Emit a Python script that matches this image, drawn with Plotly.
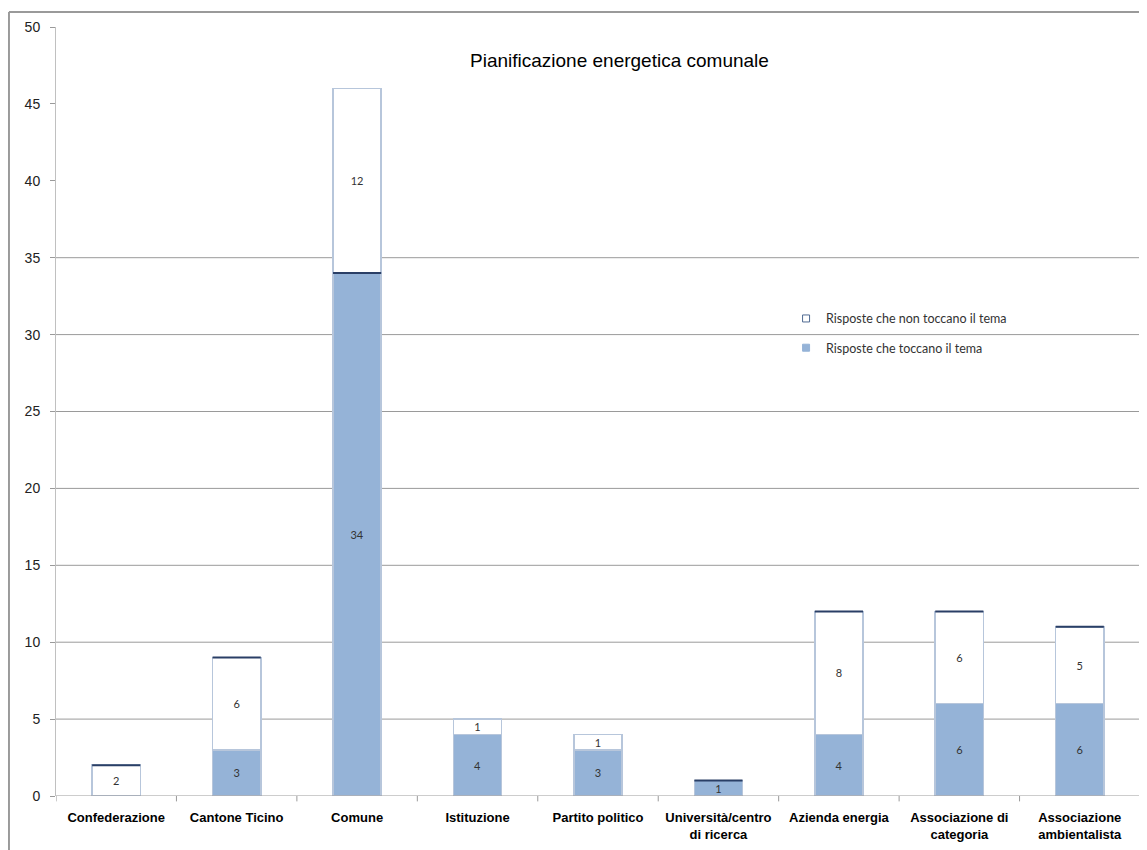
import plotly.graph_objects as go

categories = ["Confederazione", "Cantone Ticino", "Comune", "Istituzione", "Partito politico",
              "Università/centro<br>di ricerca", "Azienda energia", "Associazione di<br>categoria",
              "Associazione<br>ambientalista"]
toccano = [0, 3, 34, 4, 3, 1, 4, 6, 6]
non_toccano = [2, 6, 12, 1, 1, 0, 8, 6, 5]
y_ticks = [0, 5, 10, 15, 20, 25, 30, 35, 40, 45, 50]
grid_values = [5, 10, 15, 20, 25, 30, 35]
title_text = "Pianificazione energetica comunale"
name_toccano = "Risposte che toccano il tema"
name_non = "Risposte che non toccano il tema"

# style: which segment tops show a dark edge (as in the reference rendering)
dark_top_blue = [False, False, True, False, False, True, False, False, False]
dark_top_white = [True, True, False, False, False, False, True, True, True]

BLUE = "#95b3d7"
EDGE = "#b7c6db"
DARK = "#2a3f66"
BAR_W = 0.4
FONT = "Liberation Sans"

fig = go.Figure()
fig.add_trace(go.Bar(
    x=list(range(len(categories))), y=toccano, width=BAR_W,
    marker=dict(color=BLUE, line=dict(color=EDGE, width=1.5)),
    text=[str(v) if v > 0 else "" for v in toccano],
    textposition="inside", insidetextanchor="middle", constraintext="none",
    textangle=0, textfont=dict(family="Lato", size=11, color="#333333"),
    showlegend=False, hoverinfo="skip"))
fig.add_trace(go.Bar(
    x=list(range(len(categories))), y=non_toccano, width=BAR_W,
    marker=dict(color="white", line=dict(color=EDGE, width=1.5)),
    text=[str(v) if v > 0 else "" for v in non_toccano],
    textposition="inside", insidetextanchor="middle", constraintext="none",
    textangle=0, textfont=dict(family="Lato", size=11, color="#333333"),
    showlegend=False, hoverinfo="skip"))

# legend entries with small square symbols
fig.add_trace(go.Scatter(x=[None], y=[None], mode="markers", name=name_non,
                         legendgroup="a",
                         marker=dict(symbol="square", size=7, color="white",
                                     line=dict(color="#4f6a92", width=1))))
fig.add_trace(go.Scatter(x=[None], y=[None], mode="markers", name=name_toccano,
                         legendgroup="b",
                         marker=dict(symbol="square", size=7, color=BLUE,
                                     line=dict(color=BLUE, width=1))))

shapes = []
for g in grid_values:
    shapes.append(dict(type="line", xref="paper", yref="y", x0=0, x1=1.006, y0=g, y1=g,
                       line=dict(color="#9a9a9a", width=1), layer="below"))
for i in range(len(categories)):
    if dark_top_blue[i] and toccano[i] > 0:
        shapes.append(dict(type="line", xref="x", yref="y", x0=i - BAR_W / 2, x1=i + BAR_W / 2,
                           y0=toccano[i], y1=toccano[i], line=dict(color=DARK, width=2)))
    if dark_top_white[i] and non_toccano[i] > 0:
        top = toccano[i] + non_toccano[i]
        shapes.append(dict(type="line", xref="x", yref="y", x0=i - BAR_W / 2, x1=i + BAR_W / 2,
                           y0=top, y1=top, line=dict(color=DARK, width=2)))
# outer frame (top and left border of the chart object)
shapes.append(dict(type="line", xref="paper", yref="paper", x0=-0.0434, x1=1.01,
                   y0=1.0195, y1=1.0195, line=dict(color="#9a9a9a", width=2)))
shapes.append(dict(type="line", xref="paper", yref="paper", x0=-0.0434, x1=-0.0434,
                   y0=1.0195, y1=-0.08, line=dict(color="#9a9a9a", width=2)))

fig.update_layout(
    width=1139, height=842,
    margin=dict(l=48, r=7, t=19, b=54),
    paper_bgcolor="white", plot_bgcolor="white",
    barmode="stack",
    font=dict(family=FONT, color="#222222"),
    shapes=shapes,
    annotations=[dict(text=title_text, xref="paper", yref="paper", x=0.520, y=0.957,
                      xanchor="center", yanchor="middle", showarrow=False,
                      font=dict(family=FONT, size=19, color="#000000"))],
    legend=dict(x=0.6735, y=0.640, xanchor="left", yanchor="top",
                font=dict(family="Lato", size=12.5, color="#333333"),
                bgcolor="rgba(0,0,0,0)", tracegroupgap=10, traceorder="grouped",
                itemwidth=30),
    showlegend=True,
    xaxis=dict(
        tickmode="array", tickvals=list(range(len(categories))), ticktext=categories,
        range=[-0.5, len(categories) - 0.5],
        showgrid=False, zeroline=False, showline=False,
        ticks="", tickfont=dict(family=FONT, size=13, color="#000000", weight="bold"),
        ticklabelstandoff=12),
    yaxis=dict(
        range=[0, 50], tickvals=y_ticks, showgrid=False, zeroline=False,
        showline=True, linecolor="#c0c0c0", linewidth=1,
        ticks="outside", ticklen=5, tickcolor="#9a9a9a", ticklabelstandoff=7,
        tickfont=dict(family=FONT, size=14, color="#222222")),
)

# x axis line at 0 and boundary tick marks
fig.add_shape(type="line", xref="paper", yref="y", x0=0, x1=1.006, y0=0, y1=0,
              line=dict(color="#9a9a9a", width=1))
for i in range(len(categories) + 1):
    fig.add_shape(type="line", xref="x", yref="paper", x0=i - 0.5, x1=i - 0.5,
                  y0=0, y1=-0.007, line=dict(color="#9a9a9a", width=1))

fig.write_html("out.html")
